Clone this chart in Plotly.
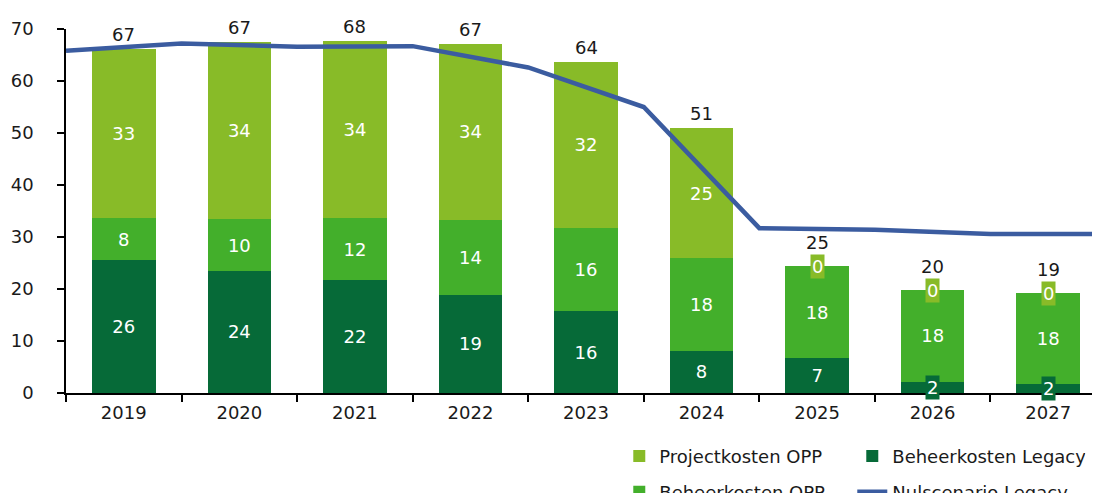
import plotly.graph_objects as go

years = ["2019", "2020", "2021", "2022", "2023", "2024", "2025", "2026", "2027"]
beheer_legacy = [25.5, 23.5, 21.7, 18.9, 15.7, 8.1, 6.7, 2.2, 1.7]
beheer_opp = [8.1, 9.9, 11.9, 14.4, 16.1, 17.9, 17.7, 17.6, 17.5]
project_opp = [32.6, 34.1, 34.0, 33.9, 31.9, 24.9, 0.0, 0.0, 0.0]
total_labels = ["67", "67", "68", "67", "64", "51", "25", "20", "19"]
# Nulscenario Legacy, values at the boundaries between the year categories
nul_legacy = [65.8, 67.2, 66.6, 66.7, 62.6, 55.0, 31.7, 31.4, 30.6, 30.6]

C_PROJ = "#88BB28"
C_BOPP = "#43AF2B"
C_LEG = "#066A38"
C_LINE = "#3B5CA0"
FONT = "DejaVu Sans"
FS = 18
TXT = "#1a1a1a"

def seg_text(vals):
    return [f"{v:.0f}" if v >= 5 else "" for v in vals]

fig = go.Figure()
fig.add_bar(x=years, y=beheer_legacy, name="Beheerkosten Legacy", marker_color=C_LEG,
            text=seg_text(beheer_legacy), legend="legend", legendrank=2)
fig.add_bar(x=years, y=beheer_opp, name="Beheerkosten OPP", marker_color=C_BOPP,
            text=seg_text(beheer_opp), legend="legend2", legendrank=1)
fig.add_bar(x=years, y=project_opp, name="Projectkosten OPP", marker_color=C_PROJ,
            text=seg_text(project_opp), legend="legend", legendrank=1)
fig.update_traces(selector=dict(type="bar"), width=0.55, marker_line_width=0,
                  texttemplate="%{text}", textposition="inside", insidetextanchor="middle",
                  textangle=0, textfont=dict(color="white", size=FS, family=FONT))

nx = [i - 0.5 for i in range(len(years) + 1)]
fig.add_scatter(x=nx, y=nul_legacy, mode="lines", name="Nulscenario Legacy",
                line=dict(color=C_LINE, width=4.5), xaxis="x2", legend="legend2", legendrank=2,
                cliponaxis=False)

annotations = []
for i, yr in enumerate(years):
    top = beheer_legacy[i] + beheer_opp[i] + project_opp[i]
    small_top = project_opp[i] < 5
    annotations.append(dict(x=i, y=top, xref="x", yref="y", text=total_labels[i], showarrow=False,
                            yanchor="bottom", yshift=11 if small_top else 2,
                            font=dict(size=FS, color=TXT, family=FONT)))
    if small_top:
        annotations.append(dict(x=i, y=top, xref="x", yref="y", text=f"{project_opp[i]:.0f}",
                                showarrow=False, yanchor="middle", bgcolor=C_PROJ, borderpad=1,
                                font=dict(size=FS, color="white", family=FONT)))
    if beheer_legacy[i] < 5:
        annotations.append(dict(x=i, y=beheer_legacy[i] / 2, xref="x", yref="y",
                                text=f"{beheer_legacy[i]:.0f}",
                                showarrow=False, yanchor="middle", bgcolor=C_LEG, borderpad=1,
                                font=dict(size=FS, color="white", family=FONT)))

legend_common = dict(orientation="h", xanchor="left", yanchor="middle", entrywidth=188,
                     font=dict(size=FS, color=TXT, family=FONT), bgcolor="rgba(0,0,0,0)",
                     traceorder="normal")

fig.update_layout(
    width=1100, height=493,
    margin=dict(l=58, r=2, t=21, b=107.5, autoexpand=False),
    paper_bgcolor="white", plot_bgcolor="white",
    barmode="stack", bargap=0.45,
    font=dict(family=FONT, size=FS, color=TXT),
    xaxis=dict(type="category", range=[-0.5, 8.5], showline=True, linecolor="black", linewidth=1.5,
               ticks="outside", tickson="boundaries", ticklen=7, tickcolor="black", tickwidth=1.5,
               showgrid=False, zeroline=False, ticklabelstandoff=3,
               tickfont=dict(size=FS, color=TXT, family=FONT)),
    xaxis2=dict(overlaying="x", range=[-0.5, 8.5], visible=False, showgrid=False),
    yaxis=dict(range=[0, 70], tickvals=list(range(0, 71, 10)), showline=True, linecolor="black",
               linewidth=1.5, ticks="outside", ticklen=7, tickcolor="black", tickwidth=1.5,
               showgrid=False, zeroline=False, ticklabelstandoff=20,
               tickfont=dict(size=FS, color=TXT, family=FONT)),
    legend=dict(x=0.532, y=-0.174, **legend_common),
    legend2=dict(x=0.532, y=-0.272, **legend_common),
    annotations=annotations,
    showlegend=True,
)

fig.write_html("out.html")
